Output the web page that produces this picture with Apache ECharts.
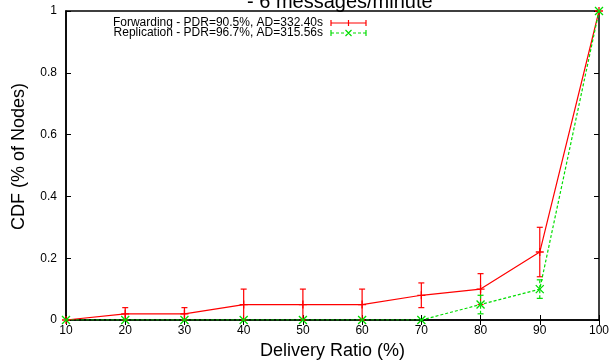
<!DOCTYPE html>
<html><head><meta charset="utf-8">
<script src="https://cdn.jsdelivr.net/npm/echarts@6/dist/echarts.min.js"></script>
<style>html,body{margin:0;padding:0;background:#fff}#c{width:610px;height:360px}</style>
</head><body><div id="c"></div>
<script>
var categories = [10, 20, 30, 40, 50, 60, 70, 80, 90, 100];
var fwdValues = [0, 0.02, 0.02, 0.05, 0.05, 0.05, 0.08, 0.10, 0.22, 1];
var repValues = [0, 0, 0, 0, 0, 0, 0, 0.05, 0.10, 1];
var fwdErrX = [20, 30, 40, 50, 60, 70, 80, 90];
var fwdErrLow = [0, 0, 0, 0, 0, 0.04, 0.05, 0.14];
var fwdErrHigh = [0.04, 0.04, 0.10, 0.10, 0.10, 0.12, 0.15, 0.30];
var repErrX = [80, 90];
var repErrLow = [0.02, 0.07];
var repErrHigh = [0.08, 0.13];
var yTicks = [0, 0.2, 0.4, 0.6, 0.8, 1];
var fwdName = 'Forwarding - PDR=90.5%, AD=332.40s';
var repName = 'Replication - PDR=96.7%, AD=315.56s';
var titleText = '- 6 messages/minute';

var RED = '#ff0000', GREEN = '#00dd00';
var FONT = '"Liberation Sans", Arial, sans-serif';

function pairs(xs, ys) { return xs.map(function (x, i) { return [x, ys[i]]; }); }
function errData(xs, lo, hi) { return xs.map(function (x, i) { return [x, lo[i], hi[i]]; }); }

function errRender(color, dashed) {
  return function (params, api) {
    var x = api.value(0);
    var p1 = api.coord([x, api.value(1)]);
    var p2 = api.coord([x, api.value(2)]);
    var hw = 3;
    var style = { stroke: color, lineWidth: 1.2, lineDash: dashed ? [3, 2] : null };
    return {
      type: 'group',
      children: [
        { type: 'line', shape: { x1: p1[0], y1: p1[1], x2: p2[0], y2: p2[1] }, style: style },
        { type: 'line', shape: { x1: p1[0] - hw, y1: p1[1], x2: p1[0] + hw, y2: p1[1] }, style: { stroke: color, lineWidth: 1.2 } },
        { type: 'line', shape: { x1: p2[0] - hw, y1: p2[1], x2: p2[0] + hw, y2: p2[1] }, style: { stroke: color, lineWidth: 1.2 } }
      ]
    };
  };
}

var plusPath = 'path://M0,5L10,5M5,0L5,10';
var crossPath = 'path://M0,0L10,10M10,0L0,10';
var fwdIcon = 'path://M0,1L0,7M35,1L35,7M0,4L35,4M17.5,1L17.5,7';
var repIcon = 'path://M0,1L0,7M35,1L35,7M0,4L3,4M5,4L8,4M10,4L13,4M22,4L25,4M27,4L30,4M32,4L35,4M14.5,1L20.5,7M20.5,1L14.5,7';

var chart = echarts.init(document.getElementById('c'), null, { renderer: 'canvas' });
chart.setOption({
  animation: false,
  backgroundColor: '#fff',
  textStyle: { fontFamily: FONT },
  title: {
    text: titleText, left: 242, top: -13,
    textStyle: { fontFamily: FONT, fontSize: 20, fontWeight: 'normal', color: '#000' }
  },
  grid: { left: 66, right: 11, top: 11, bottom: 40, show: true, borderColor: '#000', borderWidth: 1.5, containLabel: false, outerBoundsMode: 'none' },
  legend: {
    orient: 'vertical', left: 106, top: 12, align: 'right',
    itemWidth: 35, itemHeight: 8, itemGap: -2,
    textStyle: { fontFamily: FONT, fontSize: 12, lineHeight: 11, color: '#000', width: 212, align: 'right', padding: [0, 3, 0, 0] },
    data: [
      { name: fwdName, icon: fwdIcon, itemStyle: { color: RED, borderColor: RED, borderWidth: 1.2 } },
      { name: repName, icon: repIcon, itemStyle: { color: GREEN, borderColor: GREEN, borderWidth: 1.2 } }
    ]
  },
  xAxis: [{
    type: 'value', min: 10, max: 100, interval: 10,
    name: 'Delivery Ratio (%)', nameLocation: 'middle', nameGap: 20,
    nameTextStyle: { fontFamily: FONT, fontSize: 18, color: '#000' },
    axisLine: { show: true, lineStyle: { color: '#000', width: 1.5 } },
    axisTick: { show: true, inside: true, length: 5, lineStyle: { color: '#000' } },
    axisLabel: { fontFamily: FONT, fontSize: 12, color: '#000', margin: 5 },
    splitLine: { show: false }
  }, {
    type: 'value', min: 10, max: 100, interval: 10, position: 'top',
    axisLine: { show: false },
    axisTick: { show: true, inside: true, length: 5, lineStyle: { color: '#000' } },
    axisLabel: { show: false }, splitLine: { show: false }
  }],
  yAxis: [{
    type: 'value', min: 0, max: 1, interval: 0.2,
    name: 'CDF (% of Nodes)', nameLocation: 'middle', nameGap: 38,
    nameTextStyle: { fontFamily: FONT, fontSize: 18, color: '#000', padding: [0, 0, 0, 18] },
    axisLine: { show: true, lineStyle: { color: '#000', width: 1.5 } },
    axisTick: { show: true, inside: true, length: 5, lineStyle: { color: '#000' } },
    axisLabel: {
      fontFamily: FONT, fontSize: 12, color: '#000', margin: 9,
      formatter: function (v) { var t = yTicks.filter(function (y) { return Math.abs(y - v) < 1e-9; }); return t.length ? String(t[0]) : ''; }
    },
    splitLine: { show: false }
  }, {
    type: 'value', min: 0, max: 1, interval: 0.2, position: 'right',
    axisLine: { show: false },
    axisTick: { show: true, inside: true, length: 5, lineStyle: { color: '#000' } },
    axisLabel: { show: false }, splitLine: { show: false }
  }],
  series: [
    {
      type: 'custom', name: fwdName, data: errData(fwdErrX, fwdErrLow, fwdErrHigh),
      itemStyle: { color: RED },
      renderItem: errRender(RED, false), z: 2, silent: true
    },
    {
      type: 'custom', name: repName, data: errData(repErrX, repErrLow, repErrHigh),
      itemStyle: { color: GREEN },
      renderItem: errRender(GREEN, true), z: 2, silent: true
    },
    {
      name: fwdName, type: 'line', data: pairs(categories, fwdValues),
      symbol: plusPath, symbolSize: 8, showSymbol: true,
      lineStyle: { color: RED, width: 1.2 },
      itemStyle: { color: RED, borderColor: RED, borderWidth: 1.3 },
      z: 3
    },
    {
      name: repName, type: 'line', data: pairs(categories, repValues),
      symbol: crossPath, symbolSize: 8, showSymbol: true,
      lineStyle: { color: GREEN, width: 1.2, type: [3, 2] },
      itemStyle: { color: GREEN, borderColor: GREEN, borderWidth: 1.3 },
      z: 4
    }
  ]
});
</script>
</body></html>
